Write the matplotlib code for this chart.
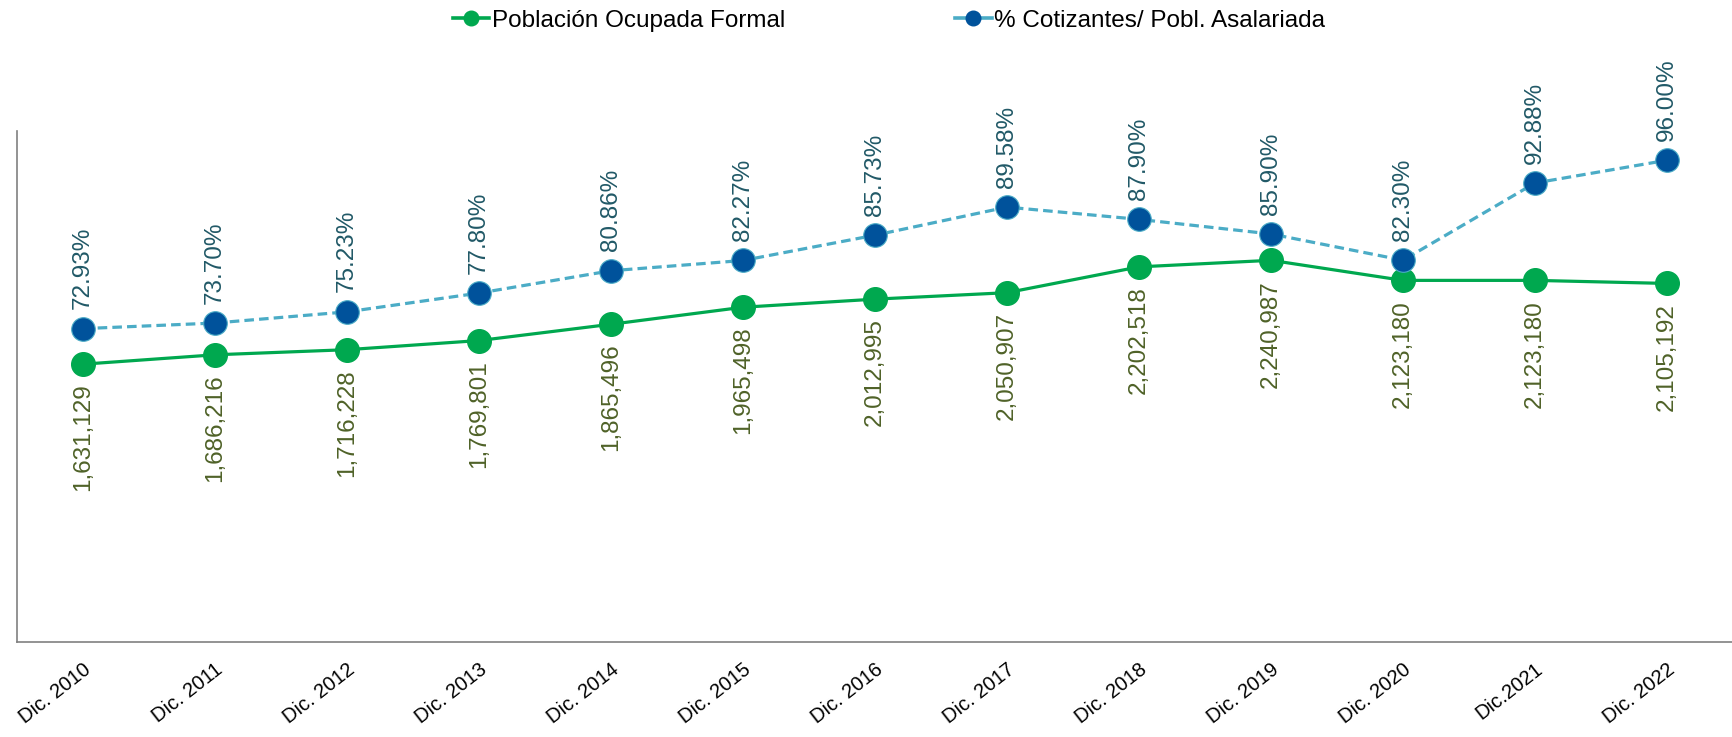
import numpy as np
import matplotlib
matplotlib.use('Agg')
import matplotlib.pyplot as plt
import matplotlib.transforms as mtransforms
from matplotlib.lines import Line2D

plt.rcParams['font.family'] = 'sans-serif'
plt.rcParams['font.sans-serif'] = ['Liberation Sans', 'DejaVu Sans']

categories = ['Dic. 2010', 'Dic. 2011', 'Dic. 2012', 'Dic. 2013', 'Dic. 2014',
              'Dic. 2015', 'Dic. 2016', 'Dic. 2017', 'Dic. 2018', 'Dic. 2019',
              'Dic. 2020', 'Dic.2021', 'Dic. 2022']
ocupada_formal = [1631129, 1686216, 1716228, 1769801, 1865496, 1965498, 2012995,
                  2050907, 2202518, 2240987, 2123180, 2123180, 2105192]
cotizantes_pct = [72.93, 73.70, 75.23, 77.80, 80.86, 82.27, 85.73,
                  89.58, 87.90, 85.90, 82.30, 92.88, 96.00]

green = '#00A84F'
green_lbl = '#4F6228'
blue_mk = '#00529B'
blue_line = '#4BACC6'
blue_lbl = '#215967'
ms = 17
fs = 17.5

fig = plt.figure(figsize=(17.33, 7.37), dpi=100)
ax1 = fig.add_axes([0.0098, 0.1289, 0.9902, 0.6933])
ax2 = ax1.twinx()

x = np.arange(len(categories))

ax1.plot(x, ocupada_formal, '-o', color=green, lw=2.3, ms=ms, zorder=3)
ax2.plot(x, cotizantes_pct, '--o', color=blue_line, lw=2.3, ms=ms,
         mfc=blue_mk, mec=blue_line, mew=0.8, dashes=(3, 1.6), zorder=3)

for xi, v in zip(x, ocupada_formal):
    ax1.annotate(f'{v:,}', (xi, v), xytext=(0, -14), textcoords='offset points',
                 rotation=90, ha='center', va='top', fontsize=fs, color=green_lbl)
for xi, v in zip(x, cotizantes_pct):
    ax2.annotate(f'{v:.2f}%', (xi, v), xytext=(0, 14), textcoords='offset points',
                 rotation=90, ha='center', va='bottom', fontsize=fs, color=blue_lbl)

ax1.set_xlim(-0.5, len(categories) - 0.5)
ax1.set_ylim(0, 3000000)
ax2.set_ylim(30, 100)

ax1.set_xticks(x)
ax1.set_xticklabels(categories, rotation=38, ha='right', va='center',
                    rotation_mode='anchor', fontsize=14.5)
ax1.tick_params(axis='x', length=0, pad=18)
shift = mtransforms.ScaledTranslation(4 / 72, 0, fig.dpi_scale_trans)
for lbl in ax1.get_xticklabels():
    lbl.set_transform(lbl.get_transform() + shift)
ax1.set_yticks([])
ax2.set_yticks([])

for ax in (ax1, ax2):
    for s in ['top', 'right']:
        ax.spines[s].set_visible(False)
    ax.spines['left'].set_color('#808080')
    ax.spines['bottom'].set_color('#808080')
    ax.spines['left'].set_linewidth(1.2)
    ax.spines['bottom'].set_linewidth(1.2)
ax2.spines['left'].set_visible(False)
ax2.spines['bottom'].set_visible(False)

handles = [Line2D([], [], color=green, lw=2.6, marker='o', ms=10.5),
           Line2D([], [], color=blue_line, lw=2.6, ls='-', marker='o', ms=10.5,
                  mfc=blue_mk, mec=blue_mk)]
fig.legend(handles, ['Población Ocupada Formal', '% Cotizantes/ Pobl. Asalariada'],
           loc='center', bbox_to_anchor=(0.513, 0.972), ncol=2, frameon=False,
           fontsize=fs, handlelength=1.5, handletextpad=0.1, columnspacing=7)

fig.savefig('out.png', dpi=100)
